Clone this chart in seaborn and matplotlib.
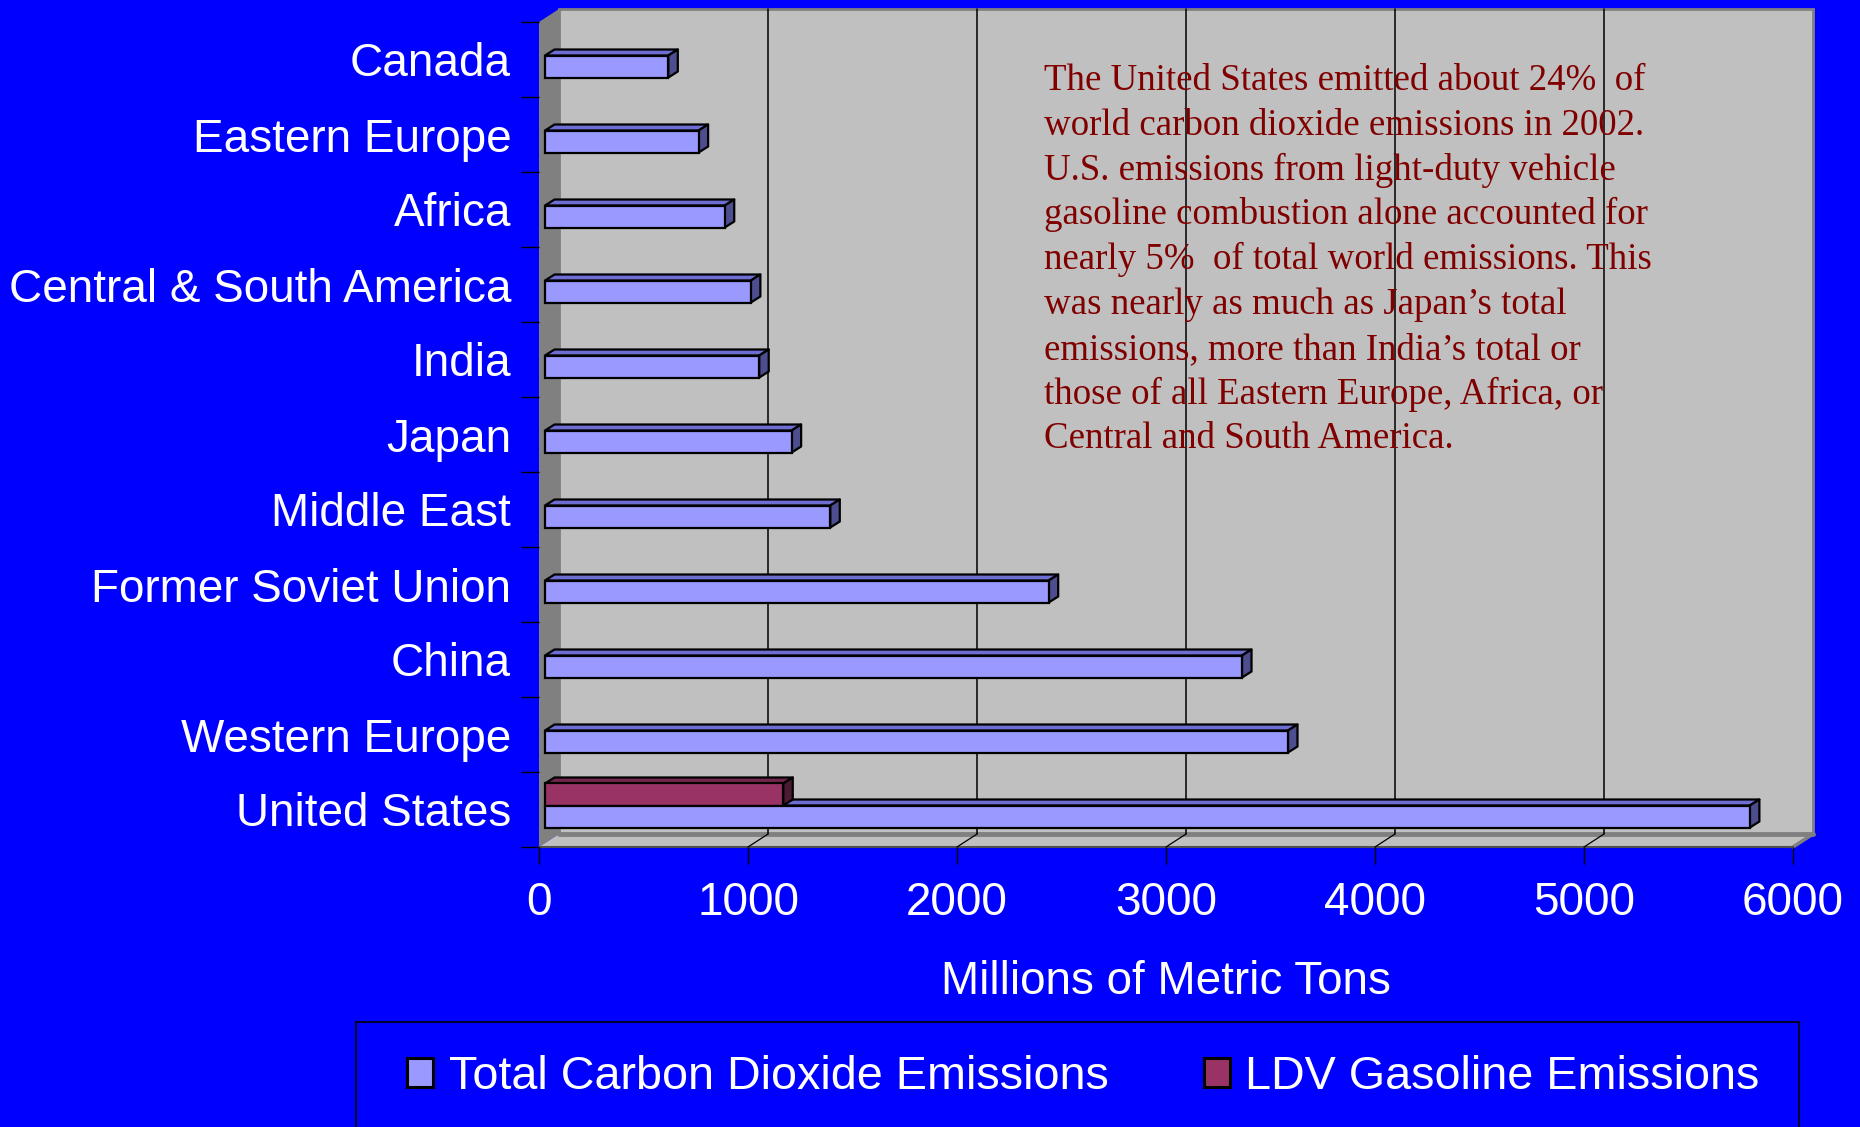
import numpy as np
import pandas as pd
import matplotlib
matplotlib.use("Agg")
import matplotlib.pyplot as plt
import seaborn as sns
from matplotlib.patches import Polygon, Rectangle, Patch
from matplotlib.transforms import IdentityTransform, Affine2D
from matplotlib.lines import Line2D

# ---- data -----------------------------------------------------------------
regions = ["Canada", "Eastern Europe", "Africa", "Central & South America",
           "India", "Japan", "Middle East", "Former Soviet Union", "China",
           "Western Europe", "United States"]
total_emissions = [590, 735, 860, 985, 1025, 1180, 1365, 2410, 3335, 3555, 5765]
ldv_regions = ["United States"]
ldv_emissions = [1140]
series_names = ["Total Carbon Dioxide Emissions", "LDV Gasoline Emissions"]
x_ticks = [0, 1000, 2000, 3000, 4000, 5000, 6000]
x_label = "Millions of Metric Tons"
note_lines = [
    "The United States emitted about 24%  of",
    "world carbon dioxide emissions in 2002.",
    "U.S. emissions from light-duty vehicle",
    "gasoline combustion alone accounted for",
    "nearly 5%  of total world emissions. This",
    "was nearly as much as Japan\u2019s total",
    "emissions, more than India\u2019s total or",
    "those of all Eastern Europe, Africa, or",
    "Central and South America.",
]

# ---- style ----------------------------------------------------------------
W, H = 1860, 1127
BLUE = "#0000FF"
WALL = "#C0C0C0"
WALL_DARK = "#808080"
face = {series_names[0]: "#9999FF", series_names[1]: "#993366"}
top_col = {series_names[0]: "#6E6ED2", series_names[1]: "#73264D"}
side_col = {series_names[0]: "#4D4D8F", series_names[1]: "#4D1A33"}
FS = 33

sns.set_theme(style="white")
plt.rcParams["font.family"] = ["Liberation Sans", "DejaVu Sans"]

df = pd.concat([
    pd.DataFrame({"region": regions, "value": total_emissions,
                  "series": series_names[0]}),
    pd.DataFrame({"region": ldv_regions, "value": ldv_emissions,
                  "series": series_names[1]}),
], ignore_index=True)

fig = plt.figure(figsize=(W / 100, H / 100), dpi=100, facecolor=BLUE)
# front plane of the 3-D box, in pixels from the top-left corner
L, R, T, B = 539, 1793, 22, 847
ax = fig.add_axes([L / W, 1 - B / H, (R - L) / W, (B - T) / H])
ax.set_facecolor("none")

hue_order = [series_names[1], series_names[0]]
sns.barplot(data=df, y="region", x="value", hue="series", order=regions,
            hue_order=hue_order, palette=face, orient="h", width=0.587,
            dodge=True, saturation=1, errorbar=None, edgecolor="black",
            linewidth=1.6, legend=False, ax=ax)
ax.set_xlim(x_ticks[0], x_ticks[-1])
ax.set_ylim(len(regions) - 0.5, -0.5)

# ---- box walls (display pixels, y upwards) --------------------------------
ident = IdentityTransform()
dL, dR, dT, dB = L, R, H - T, H - B
DX, DY = 20, 13

def add(artist):
    artist.set_clip_on(False)
    ax.add_artist(artist)

add(Rectangle((dL + DX, dB + DY), dR - dL, dT - dB, transform=ident,
              fc=WALL, ec=WALL_DARK, lw=2, zorder=0.1))
add(Polygon([(dL, dB), (dL, dT), (dL + DX, dT + DY), (dL + DX, dB + DY)],
            closed=True, transform=ident, fc=WALL_DARK, ec="none", zorder=0.2))
add(Polygon([(dL, dB), (dR, dB), (dR + DX, dB + DY), (dL + DX, dB + DY)],
            closed=True, transform=ident, fc=WALL, ec="none", zorder=0.3))
add(Line2D([dL + DX, dR + DX], [dB + DY, dB + DY], transform=ident,
           color=WALL_DARK, lw=3.5, zorder=0.35))
add(Line2D([dR, dR + DX], [dB, dB + DY], transform=ident,
           color=WALL_DARK, lw=2.5, zorder=0.35))
add(Line2D([dL, dR], [dB, dB], transform=ident, color="#505050", lw=1.5,
           zorder=0.35))

# gridlines on the back wall and their feet on the floor
for v in x_ticks[1:-1]:
    xd = ax.transData.transform((v, 0))[0]
    add(Line2D([xd + DX, xd + DX], [dB + DY, dT + DY], transform=ident,
               color="black", lw=1.1, zorder=0.4))
    add(Line2D([xd, xd + DX], [dB, dB + DY], transform=ident,
               color="black", lw=0.9, zorder=0.4))

# ---- 3-D bar faces ---------------------------------------------------------
OX, OY = 6, 4          # front face of the bars sits slightly inside the box
BX, BY = 9.5, 6        # bar depth
for level, container in zip(hue_order, ax.containers):
    zf = 2.5 if level == series_names[1] else 1.5
    for bar in container:
        x0, y0 = bar.get_x(), bar.get_y()
        w, h = bar.get_width(), bar.get_height()
        (px0, py0), (px1, py1) = ax.transData.transform([(x0, y0), (x0 + w, y0 + h)])
        left, right = min(px0, px1) + OX, max(px0, px1) + OX
        bot, top = min(py0, py1) + OY, max(py0, py1) + OY
        bar.set_transform(ax.transData + Affine2D().translate(OX, OY))
        bar.set_zorder(3)
        add(Polygon([(left, top), (right, top), (right + BX, top + BY),
                     (left + BX, top + BY)], closed=True, transform=ident,
                    fc=top_col[level], ec="black", lw=1.6, joinstyle="round",
                    zorder=zf))
        add(Polygon([(right, bot), (right, top), (right + BX, top + BY),
                     (right + BX, bot + BY)], closed=True, transform=ident,
                    fc=side_col[level], ec="black", lw=1.6, joinstyle="round",
                    zorder=zf))

# ---- axes, ticks, labels ---------------------------------------------------
for s in ax.spines.values():
    s.set_visible(False)

ax.set_xticks(x_ticks)
ax.set_xticklabels([str(v) for v in x_ticks])
ax.tick_params(axis="x", direction="out", length=12, width=1, color="black",
               labelsize=FS, labelcolor="white", pad=12.5, bottom=True)
ax.set_yticks(range(len(regions)))
ax.set_yticklabels(regions)
ax.tick_params(axis="y", which="major", length=0, labelsize=FS,
               labelcolor="white", pad=20, left=True)
ax.set_yticks(np.arange(-0.5, len(regions), 1), minor=True)
ax.tick_params(axis="y", which="minor", direction="out", length=13, width=1,
               color="black", left=True)
ax.set_ylabel("")
ax.set_xlabel(x_label, fontsize=FS, color="white", labelpad=25)

# ---- annotation ------------------------------------------------------------
for i, line in enumerate(note_lines):
    fig.text(1044 / W, 1 - (90 + i * 44.8) / H, line, color="#800000",
             fontsize=26.6, family=["Liberation Serif", "DejaVu Serif"],
             ha="left", va="baseline")

# ---- legend ----------------------------------------------------------------
fig.add_artist(Rectangle((356 / W, -0.05), (1799 - 356) / W, 0.05 + 1 - 1022 / H,
                         transform=fig.transFigure, fc=BLUE, ec="black", lw=1.2,
                         zorder=0.5))
handles = [Patch(fc=face[n], ec="black", lw=2.2, label=n) for n in series_names]
fig.legend(handles=handles, ncol=2, loc="center left",
           bbox_to_anchor=(407 / W, 1 - 1077 / H), frameon=False,
           fontsize=33.7, labelcolor="white", handlelength=0.56,
           handleheight=0.58, handletextpad=0.33, columnspacing=2.03,
           borderpad=0, borderaxespad=0)

fig.savefig("out.png", dpi=100, facecolor=BLUE)
